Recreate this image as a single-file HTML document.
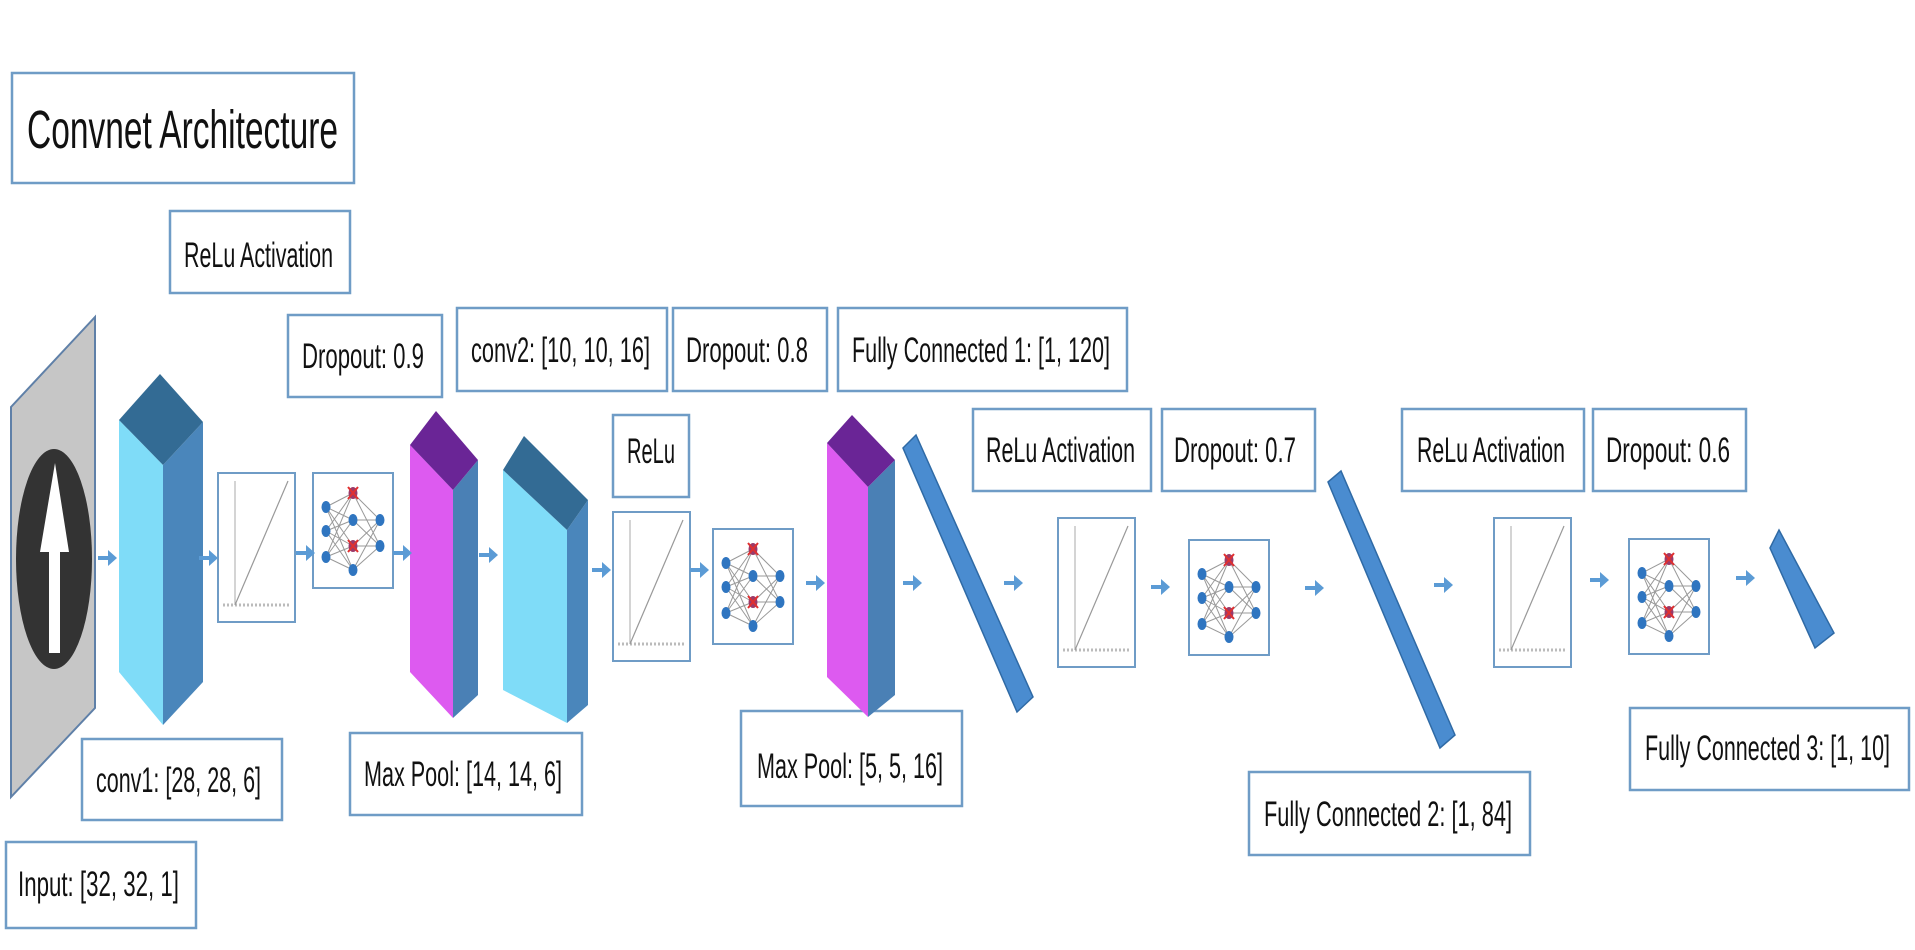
<!DOCTYPE html>
<html><head><meta charset="utf-8"><style>
html,body{margin:0;padding:0;background:#fff;width:1915px;height:950px;overflow:hidden}
svg{display:block}
text{font-family:"Liberation Sans Narrow","Liberation Sans",sans-serif;fill:#111}
</style></head><body>
<svg width="1915" height="950" viewBox="0 0 1915 950" xmlns="http://www.w3.org/2000/svg">
<defs>
<g id="plot">
  <rect x="0" y="0" width="77" height="149" fill="#fff" stroke="#6f9cc6" stroke-width="2"/>
  <line x1="17" y1="8" x2="17" y2="132" stroke="#aaa" stroke-width="1"/>
  <line x1="5" y1="132" x2="72" y2="132" stroke="#bbb" stroke-width="3" stroke-dasharray="2 2"/>
  <line x1="17" y1="132" x2="70" y2="8" stroke="#999" stroke-width="1.2"/>
</g>
<g id="nn">
  <rect x="0" y="0" width="80" height="115" fill="#fff" stroke="#6f9cc6" stroke-width="2"/>
  <g stroke="#999" stroke-width="1">
    <path d="M13 34L40 20M13 34L40 47M13 34L40 73M13 34L40 97M13 58L40 20M13 58L40 47M13 58L40 73M13 58L40 97M13 84L40 20M13 84L40 47M13 84L40 73M13 84L40 97M40 20L67 47M40 20L67 73M40 47L67 47M40 47L67 73M40 73L67 47M40 73L67 73M40 97L67 47M40 97L67 73"/>
  </g>
  <g fill="#2f75c0">
    <ellipse cx="13" cy="34" rx="4.5" ry="6"/><ellipse cx="13" cy="58" rx="4.5" ry="6"/><ellipse cx="13" cy="84" rx="4.5" ry="6"/>
    <ellipse cx="40" cy="20" rx="4.5" ry="6" fill="#9a3a6a"/><ellipse cx="40" cy="47" rx="4.5" ry="6"/><ellipse cx="40" cy="73" rx="4.5" ry="6" fill="#9a3a6a"/><ellipse cx="40" cy="97" rx="4.5" ry="6"/>
    <ellipse cx="67" cy="47" rx="4.5" ry="6"/><ellipse cx="67" cy="73" rx="4.5" ry="6"/>
  </g>
  <g stroke="#e03030" stroke-width="2"><path d="M35 14L45 26M45 14L35 26M35 67L45 79M45 67L35 79"/></g>
</g>
<g id="arr"><line x1="0" y1="0" x2="13" y2="0" stroke="#5b9bd5" stroke-width="4"/><polygon points="10,-8 19,0 10,8" fill="#5b9bd5"/></g>
</defs>

<g fill="#fff" stroke="#6f9cc6" stroke-width="2.5">
  <rect x="12" y="73" width="342" height="110"/>
  <rect x="170" y="211" width="180" height="82"/>
  <rect x="288" y="315" width="154" height="82"/>
  <rect x="457" y="308" width="210" height="83"/>
  <rect x="673" y="308" width="154" height="83"/>
  <rect x="838" y="308" width="289" height="83"/>
  <rect x="613" y="415" width="76" height="82"/>
  <rect x="973" y="409" width="178" height="82"/>
  <rect x="1162" y="409" width="153" height="82"/>
  <rect x="1402" y="409" width="182" height="82"/>
  <rect x="1593" y="409" width="153" height="82"/>
  <rect x="82" y="739" width="200" height="81"/>
  <rect x="350" y="733" width="232" height="82"/>
  <rect x="6" y="842" width="190" height="86"/>
  <rect x="741" y="711" width="221" height="95"/>
  <rect x="1249" y="772" width="281" height="83"/>
  <rect x="1630" y="708" width="279" height="82"/>
</g>

<text x="27" y="148" font-size="54" textLength="311" lengthAdjust="spacingAndGlyphs">Convnet Architecture</text>
<g font-size="35">
<text x="184" y="267" textLength="149" lengthAdjust="spacingAndGlyphs">ReLu Activation</text>
<text x="302" y="368" textLength="122" lengthAdjust="spacingAndGlyphs">Dropout:  0.9</text>
<text x="471" y="362" textLength="179" lengthAdjust="spacingAndGlyphs">conv2: [10, 10, 16]</text>
<text x="686" y="362" textLength="122" lengthAdjust="spacingAndGlyphs">Dropout:  0.8</text>
<text x="852" y="362" textLength="258" lengthAdjust="spacingAndGlyphs">Fully Connected 1: [1, 120]</text>
<text x="627" y="463" textLength="48" lengthAdjust="spacingAndGlyphs">ReLu</text>
<text x="986" y="462" textLength="149" lengthAdjust="spacingAndGlyphs">ReLu Activation</text>
<text x="1174" y="462" textLength="122" lengthAdjust="spacingAndGlyphs">Dropout:  0.7</text>
<text x="1417" y="462" textLength="148" lengthAdjust="spacingAndGlyphs">ReLu Activation</text>
<text x="1606" y="462" textLength="124" lengthAdjust="spacingAndGlyphs">Dropout:  0.6</text>
<text x="96" y="792" textLength="165" lengthAdjust="spacingAndGlyphs">conv1: [28, 28, 6]</text>
<text x="364" y="786" textLength="198" lengthAdjust="spacingAndGlyphs">Max Pool: [14, 14, 6]</text>
<text x="18" y="896" textLength="161" lengthAdjust="spacingAndGlyphs">Input: [32, 32, 1]</text>
<text x="757" y="778" textLength="186" lengthAdjust="spacingAndGlyphs">Max Pool: [5, 5, 16]</text>
<text x="1264" y="826" textLength="248" lengthAdjust="spacingAndGlyphs">Fully Connected 2: [1, 84]</text>
<text x="1645" y="760" textLength="245" lengthAdjust="spacingAndGlyphs">Fully Connected 3: [1, 10]</text>
</g>

<!-- input -->
<polygon points="95,317 11,407 11,797 95,708" fill="#c6c6c6" stroke="#5f80a8" stroke-width="2"/>
<ellipse cx="54" cy="559" rx="38" ry="110" fill="#333"/>
<polygon points="49,653 60,653 60,552 69,552 55,463 40,552 49,552" fill="#fff"/>

<!-- conv1 -->
<polygon points="119,420 163,465 163,725 119,672" fill="#7fdcf8"/>
<polygon points="163,465 203,422 203,682 163,725" fill="#4a86bb"/>
<polygon points="119,420 160,374 203,422 163,465" fill="#336b94"/>

<!-- maxpool1 -->
<polygon points="410,445 453,490 453,718 410,672" fill="#dd5af0"/>
<polygon points="453,490 478,460 478,695 453,718" fill="#4a80b5"/>
<polygon points="410,445 436,411 478,460 453,490" fill="#6a2596"/>

<!-- conv2 -->
<polygon points="503,470 567,530 567,723 503,690" fill="#7fdcf8"/>
<polygon points="567,530 588,500 588,705 567,723" fill="#4a86bb"/>
<polygon points="503,470 524,436 588,500 567,530" fill="#336b94"/>

<!-- maxpool2 -->
<polygon points="827,443 868,487 868,717 827,677" fill="#dd5af0"/>
<polygon points="868,487 895,460 895,695 868,717" fill="#4a80b5"/>
<polygon points="827,443 852,415 895,460 868,487" fill="#6a2596"/>

<!-- FC bars -->
<g fill="#4a8cd0" stroke="#2f6aa5" stroke-width="1.5">
<polygon points="903,448 916,435 1033,697 1017,712"/>
<polygon points="1328,482 1341,471 1455,735 1440,748"/>
<polygon points="1770,548 1779,530 1834,633 1815,648"/>
</g>

<use href="#plot" x="218" y="473"/>
<use href="#plot" x="613" y="512"/>
<use href="#plot" x="1058" y="518"/>
<use href="#plot" x="1494" y="518"/>

<use href="#nn" x="313" y="473"/>
<use href="#nn" x="713" y="529"/>
<use href="#nn" x="1189" y="540"/>
<use href="#nn" x="1629" y="539"/>

<use href="#arr" x="98" y="558"/>
<use href="#arr" x="199" y="558"/>
<use href="#arr" x="296" y="553"/>
<use href="#arr" x="393" y="553"/>
<use href="#arr" x="479" y="555"/>
<use href="#arr" x="592" y="570"/>
<use href="#arr" x="690" y="570"/>
<use href="#arr" x="806" y="583"/>
<use href="#arr" x="903" y="583"/>
<use href="#arr" x="1004" y="583"/>
<use href="#arr" x="1151" y="587"/>
<use href="#arr" x="1305" y="588"/>
<use href="#arr" x="1434" y="585"/>
<use href="#arr" x="1590" y="580"/>
<use href="#arr" x="1736" y="578"/>
</svg>
</body></html>
